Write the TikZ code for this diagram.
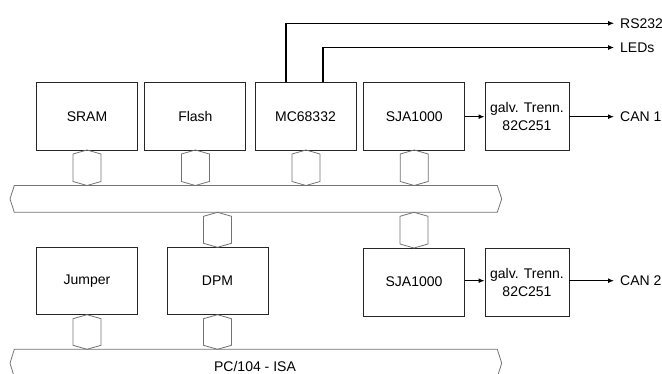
\documentclass[tikz,border=0pt]{standalone}
\usepackage{fontspec}
\setmainfont{Liberation Sans}
\usetikzlibrary{arrows.meta}
\tikzset{
  blk/.style={draw=black!85, line width=0.9pt, fill=white, inner sep=0pt, minimum width=101pt, minimum height=67.3pt, font=\fontsize{14}{18}\selectfont, align=center},
  galv/.style={blk, minimum width=84pt},
  hexline/.style={draw=black!55, line width=0.8pt, line join=miter},
  busline/.style={draw=black!55, line width=0.8pt},
  sig/.style={line width=1.5pt, -{Latex[length=6pt,width=5pt]}},
  thinsig/.style={line width=1pt, -{Latex[length=6pt,width=5pt]}},
  wire/.style={line width=1.8pt},
  lbl/.style={font=\fontsize{14}{16}\selectfont, anchor=west, inner sep=0pt}
}
\newcommand{\hexcon}[3]{% center x, top y, bottom y
  \draw[hexline] (#1,#2) -- (#1+14,#2+4) -- (#1+14,#3-4) -- (#1,#3) -- (#1-14,#3-4) -- (#1-14,#2+4) -- cycle;}
\begin{document}
\begin{tikzpicture}[x=1pt,y=-1pt]
\useasboundingbox (0,0) rectangle (662,374);
% buses
\draw[busline] (14.3,185.5) -- (497.3,185.5) -- (501.7,198.9) -- (497.3,212.3) -- (14.3,212.3) -- (10,198.9) -- cycle;
\coordinate (bus1) at (256,198.9);
\begin{scope}
\clip (0,0) rectangle (662,374);
\draw[busline] (14.3,349.3) -- (497.3,349.3) -- (501.7,363.2) -- (497.3,377.1) -- (14.3,377.1) -- (10,363.2) -- cycle;
\end{scope}
\node[font=\fontsize{14}{16}\selectfont, inner sep=0pt] (isa) at (255,366.5) {PC/104 - ISA};
% top row
\node[blk] (sram) at (87,116.4) {SRAM};
\node[blk] (flash) at (195.4,116.4) {Flash};
\node[blk] (mc) at (305.5,116.4) {MC68332};
\node[blk] (sja1) at (414.2,116.4) {SJA1000};
\node[galv] (galv1) at (527,116.4) {galv. Trenn.\\82C251};
% bottom row
\node[blk] (jumper) at (87,281) {Jumper};
\node[blk] (dpm) at (217.5,281) {DPM};
\node[blk, minimum height=68pt] (sja2) at (414,282) {SJA1000};
\node[galv, minimum height=68pt] (galv2) at (527,282) {galv. Trenn.\\82C251};
% hex connectors
\hexcon{87}{150}{185.5}
\hexcon{195.4}{150}{185.5}
\hexcon{306}{150}{185.5}
\hexcon{414.2}{150}{185.5}
\hexcon{217.5}{212.3}{247.3}
\hexcon{414}{212.3}{248}
\hexcon{87}{314.7}{349.3}
\hexcon{217.5}{314.7}{349.3}
% signal lines
\coordinate (rsend) at (614,23.3);
\coordinate (ledend) at (614,47.5);
\draw[wire] (mc.north -| 285.8,0) -- (285.8,23.3);
\draw[thinsig] (285,23.3) -- (rsend);
\draw[wire] (mc.north -| 322.7,0) -- (322.7,47.5);
\draw[thinsig] (322,47.5) -- (ledend);
\node[lbl] (rs) at (620,23.3) {RS232};
\node[lbl] (led) at (620,47.5) {LEDs};
\draw[sig] (sja1.east |- 0,116.7) -- (galv1.west |- 0,116.7);
\coordinate (can1end) at (614,116.7);
\draw[sig] (galv1.east |- 0,116.7) -- (can1end);
\node[lbl] (can1) at (620,116.7) {CAN 1};
\draw[sig] (sja2.east |- 0,280.7) -- (galv2.west |- 0,280.7);
\coordinate (can2end) at (614,280.7);
\draw[sig] (galv2.east |- 0,280.7) -- (can2end);
\node[lbl] (can2) at (620,280.7) {CAN 2};
\end{tikzpicture}
\end{document}
